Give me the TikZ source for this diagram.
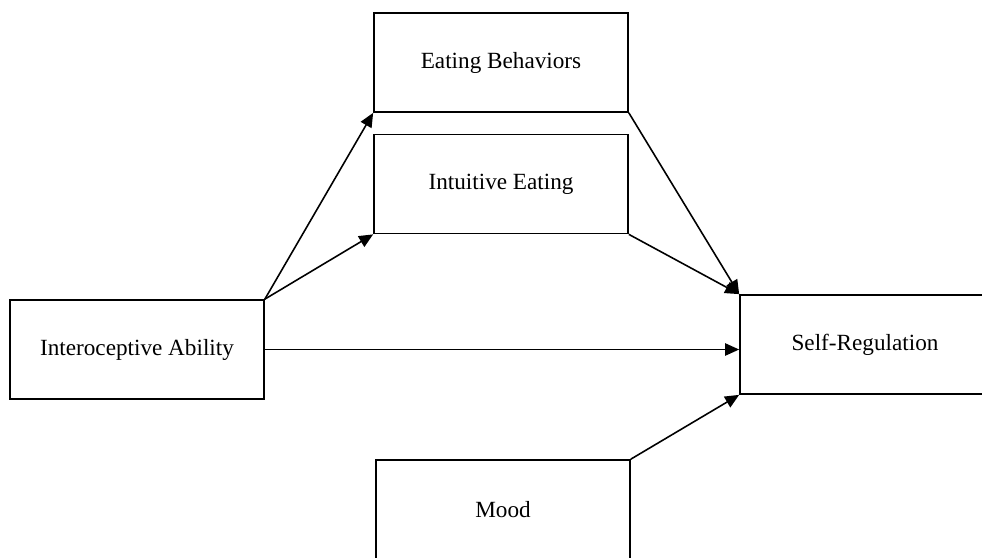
\documentclass[tikz,border=0pt]{standalone}
\usepackage{fontspec}
\setmainfont{Liberation Serif}
\usetikzlibrary{arrows.meta,positioning}

\begin{document}
\begin{tikzpicture}[x=0.02cm,y=-0.02cm,
    every node/.style={font=\fontsize{13.2}{15}\selectfont,align=center},
    box/.style={draw,line width=1pt,inner sep=0pt,minimum width=5.08cm,minimum height=1.98cm},
    link/.style={-{Triangle[length=8pt,width=7pt]},line width=0.9pt}]
    \useasboundingbox (0,0) rectangle (982,557);
    \clip (0,0) rectangle (982,557);
    \node[box] (eb) at (501,62.5) {Eating Behaviors};
    \node[box] (ie) at (501,184) {Intuitive Eating};
    \node[box] (ia) at (137,349.5) {Interoceptive Ability};
    \node[box,minimum width=5cm,text depth=0.6ex] (sr) at (865,344.5) {Self-Regulation};
    \node[box] (md) at (503,509.5) {Mood};
    \draw[link] (ia.north east) -- (eb.south west);
    \draw[link] (ia.north east) -- (ie.south west);
    \draw[link] (ia.east) -- (ia.east -| sr.west);
    \draw[link] (eb.south east) -- (sr.north west);
    \draw[link] (ie.south east) -- (sr.north west);
    \draw[link] (md.north east) -- (sr.south west);
  \end{tikzpicture}
\end{document}
